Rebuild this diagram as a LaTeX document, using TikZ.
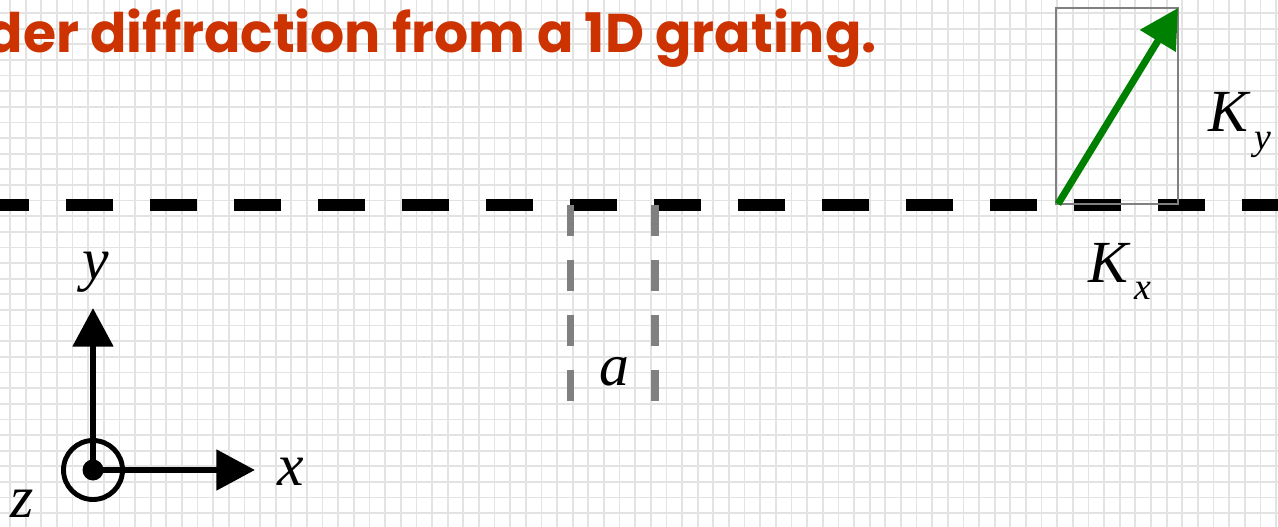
\documentclass[tikz,border=0pt]{standalone}
\usepackage{fontspec}
\usetikzlibrary{arrows.meta}
\newfontfamily\titlefont{Poppins}
\newfontfamily\labelfont{Liberation Serif}
\definecolor{titlered}{RGB}{204,51,0}
\definecolor{kgreen}{RGB}{0,128,0}
\newcommand{\wavevec}[1]{\textit{K}\kern0.1em\raisebox{-0.3em}{\fontsize{21.5}{21.5}\selectfont\textit{#1}}}

\begin{document}
\begin{tikzpicture}[
  x=0.02cm, y=-0.02cm,
  gridline/.style={draw=black!11, line width=1pt},
  grating/.style={draw=black, line width=6.8pt, dash pattern=on 27pt off 20.8pt},
  period/.style={draw=black!50, line width=4pt, dash pattern=on 17.6pt off 13.7pt},
  axis/.style={line width=3.8pt, -{Triangle[length=22pt, width=22.5pt]}},
  lbl/.style={font=\labelfont\fontsize{34}{34}\selectfont\itshape, inner sep=0pt}
]
\useasboundingbox (0,0) rectangle (1278,527);
\clip (0,0) rectangle (1278,527);
\fill[white] (0,0) rectangle (1278,527);
% graph paper
\foreach \i in {0,...,81} \draw[gridline] (10+15.63*\i,0) -- (10+15.63*\i,527);
\foreach \j in {0,...,33} \draw[gridline] (0,13+15.63*\j) -- (1278,13+15.63*\j);

% title
\node[anchor=base east, inner sep=0pt, text=titlered,
  font=\titlefont\bfseries\fontsize{31}{31}\selectfont] (title) at (877,53)
  {\scalebox{0.985}[1]{der diffraction from a 1D grating.}};

% grating and period
\coordinate (gl) at (-18,205);
\coordinate (gr) at (1290,205);
\draw[grating] (gl) -- (gr);
\coordinate (p1) at (570.5,205);
\coordinate (p2) at (655,205);
\draw[period] (p1) -- ++(0,196);
\draw[period] (p2) -- ++(0,196);
\node[lbl, anchor=base] (lbla) at (614,385) {a};

% wave vector
\coordinate (kstart) at (1058,204);
\coordinate (ktip) at (1178,8);
\draw[draw=black!50, line width=1.2pt] (1056,8) rectangle (1178,204);
\draw[kgreen, line width=4pt, -{Triangle[length=22pt, width=23pt]}] (kstart) -- (ktip);
\node[lbl, anchor=base west] (lblKy) at (1208,132) {\wavevec{y}};
\node[lbl, anchor=base west] (lblKx) at (1088,282) {\wavevec{x}};

% axes
\coordinate (O) at (93,470);
\coordinate (ytip) at (93,308);
\coordinate (xtip) at (255,470);
\draw[axis] (O) -- (ytip);
\draw[axis] (O) -- (xtip);
\draw[line width=2.8pt] (O) circle[radius=29.5];
\fill (O) circle[radius=10.5];
\node[lbl, anchor=base] (lbly) at (96,279) {y};
\node[lbl, anchor=base] (lblx) at (291,485) {x};
\node[lbl, anchor=base] (lblz) at (22,517) {z};
\end{tikzpicture}
\end{document}
